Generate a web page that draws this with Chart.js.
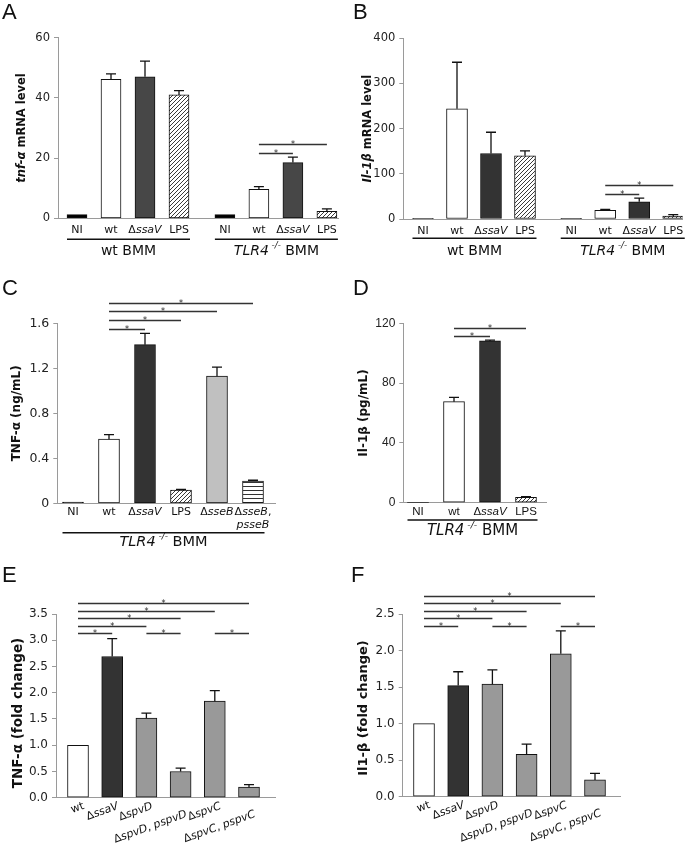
<!DOCTYPE html>
<html>
<head>
<meta charset="utf-8">
<script src="https://cdn.jsdelivr.net/npm/chart.js"></script>
<style>
  body { margin: 0; background: #fff; }
  #fig { position: relative; width: 692px; height: 848px; }
  canvas { position: absolute; }
  .lt { position: absolute; font: 22px 'Liberation Sans', sans-serif; line-height: 22px; color: #111; }
</style>
</head>
<body>
<div id="fig">
  <canvas id="cA" width="346" height="290" style="left:0;top:0"></canvas>
  <canvas id="cB" width="346" height="290" style="left:346px;top:0"></canvas>
  <canvas id="cC" width="346" height="270" style="left:0;top:290px"></canvas>
  <canvas id="cD" width="346" height="270" style="left:346px;top:290px"></canvas>
  <canvas id="cE" width="346" height="288" style="left:0;top:560px"></canvas>
  <canvas id="cF" width="346" height="288" style="left:346px;top:560px"></canvas>
  <div class="lt" style="left:2px;top:1px">A</div>
  <div class="lt" style="left:353px;top:1px">B</div>
  <div class="lt" style="left:2px;top:277px">C</div>
  <div class="lt" style="left:353px;top:277px">D</div>
  <div class="lt" style="left:2px;top:564px">E</div>
  <div class="lt" style="left:351px;top:564px">F</div>
</div>
<script>
// ---- data ----
// A: tnf-a mRNA level, wt BMM and TLR4-/- BMM
const catsA = ['NI', 'wt', 'ΔssaV', 'LPS', 'NI', 'wt', 'ΔssaV', 'LPS'];
const valsA = [1.2, 46.2, 47.0, 41.0, 1.2, 9.6, 18.5, 2.3];
const errsA = [0, 1.8, 5.2, 1.4, 0, 0.9, 1.8, 0.8];
const sigA = [[5, 6, 21.8], [5, 7, 24.6]];
const ticksA = [0, 20, 40, 60];

// B: Il-1b mRNA level
const catsB = ['NI', 'wt', 'ΔssaV', 'LPS', 'NI', 'wt', 'ΔssaV', 'LPS'];
const valsB = [1.5, 244, 145, 140, 1.5, 19, 38, 6.5];
const errsB = [0, 103, 47, 11, 0, 2, 8, 3];
const sigB = [[5, 6, 55], [5, 7, 75]];
const ticksB = [0, 100, 200, 300, 400];

// C: TNF-a (ng/mL), TLR4-/- BMM
const catsC = ['NI', 'wt', 'ΔssaV', 'LPS', 'ΔsseB', 'ΔsseB, psseB'];
const valsC = [0.01, 0.57, 1.41, 0.118, 1.13, 0.198];
const errsC = [0, 0.04, 0.10, 0.006, 0.08, 0.007];
const sigC = [[1, 2, 1.547], [1, 3, 1.63], [1, 4, 1.71], [1, 5, 1.78]];
const ticksC = [0, 0.4, 0.8, 1.2, 1.6];

// D: Il-1b (pg/mL), TLR4-/- BMM
const catsD = ['NI', 'wt', 'ΔssaV', 'LPS'];
const valsD = [0, 67.6, 108.2, 3.6];
const errsD = [0, 2.9, 0.6, 0.4];
const sigD = [[1, 2, 111.7], [1, 3, 117]];
const ticksD = [0, 40, 80, 120];

// E: TNF-a fold change
const catsE = ['wt', 'ΔssaV', 'ΔspvD', 'ΔspvD, pspvD', 'ΔspvC', 'ΔspvC, pspvC'];
const valsE = [1.0, 2.69, 1.515, 0.50, 1.84, 0.20];
const errsE = [0, 0.34, 0.095, 0.065, 0.20, 0.05];
const sigE = [[0, 1, 3.14], [0, 2, 3.28], [0, 3, 3.42], [0, 4, 3.56], [0, 5, 3.71], [2, 3, 3.14], [4, 5, 3.14]];
const ticksE = [0, 0.5, 1.0, 1.5, 2.0, 2.5, 3.0, 3.5];

// F: Il1-b fold change
const catsF = ['wt', 'ΔssaV', 'ΔspvD', 'ΔspvD, pspvD', 'ΔspvC', 'ΔspvC, pspvC'];
const valsF = [1.0, 1.52, 1.54, 0.58, 1.955, 0.23];
const errsF = [0, 0.19, 0.195, 0.14, 0.315, 0.09];
const sigF = [[0, 1, 2.34], [0, 2, 2.44], [0, 3, 2.54], [0, 4, 2.65], [0, 5, 2.75], [2, 3, 2.34], [4, 5, 2.34]];
const ticksF = [0, 0.5, 1.0, 1.5, 2.0, 2.5];

// ---- drawing helpers ----
const DV = '"DejaVu Sans"';
const LS = '"Liberation Sans"';
const TLR = [{t: 'TLR4', it: true}, {t: ' -/-', it: true, sup: true}, {t: ' BMM'}];

function makeHatch(ctx) {
  const c = document.createElement('canvas');
  c.width = 4; c.height = 4;
  const g = c.getContext('2d');
  g.fillStyle = '#fff'; g.fillRect(0, 0, 4, 4);
  g.strokeStyle = '#3a3a3a'; g.lineWidth = 1;
  g.beginPath();
  g.moveTo(0, 4); g.lineTo(4, 0);
  g.moveTo(-1, 1); g.lineTo(1, -1);
  g.moveTo(3, 5); g.lineTo(5, 3);
  g.stroke();
  return ctx.createPattern(c, 'repeat');
}

function makeLines(ctx) {
  const c = document.createElement('canvas');
  c.width = 4; c.height = 4;
  const g = c.getContext('2d');
  g.fillStyle = '#fff'; g.fillRect(0, 0, 4, 4);
  g.fillStyle = '#333'; g.fillRect(0, 0, 4, 1);
  return ctx.createPattern(c, 'repeat');
}

function segsFor(line, gene) {
  if (!gene) return [{t: line}];
  const out = [];
  for (const ch of line) {
    const it = !/[Δ, ]/.test(ch);
    const last = out[out.length - 1];
    if (last && last.it === it) last.t += ch; else out.push({t: ch, it: it});
  }
  return out;
}

function drawRich(ctx, segs, x, y, align, size, family, weight) {
  const parts = segs.map(s => {
    const sz = s.sup ? size * 0.62 : size;
    const f = (s.it ? 'italic ' : '') + (weight || 'normal') + ' ' + sz + 'px ' + family;
    ctx.font = f;
    return {s: s, f: f, w: ctx.measureText(s.t).width};
  });
  const total = parts.reduce((a, b) => a + b.w, 0);
  let cx = align === 'center' ? x - total / 2 : (align === 'right' ? x - total : x);
  ctx.textAlign = 'left';
  parts.forEach(pt => {
    ctx.font = pt.f;
    ctx.fillText(pt.s.t, cx, y - (pt.s.sup ? size * 0.38 : 0));
    cx += pt.w;
  });
}

// ---- panel layout ----
const panels = [
  {id: 'cA', w: 346, h: 290, axisX: 58, areaTop: 37.7, areaBottom: 218.3, areaRight: 338,
   x0: 77, unit: 34, split: 4, gap: 0.35, barW: 20,
   cats: catsA, vals: valsA, errs: errsA, sig: sigA, ticks: ticksA, fmt: v => String(v),
   fills: {NI: '#000', wt: '#fff', 'ΔssaV': '#474747', LPS: 'hatch'},
   title: [{t: 'tnf-α', it: true}, {t: ' mRNA level'}], titleSize: 11.5, titleX: 22,
   tickFont: DV, tickSize: 11.5, labelFont: DV, labelSize: 11, labelDy: 12,
   groups: [{from: 0, to: 3, segs: [{t: 'wt BMM'}], lineY: 239.3, textY: 251.5, size: 14},
            {from: 4, to: 7, segs: TLR, lineY: 239.3, textY: 251.5, size: 14}]},
  {id: 'cB', w: 346, h: 290, axisX: 57.3, areaTop: 38.3, areaBottom: 219, areaRight: 336.7,
   x0: 77, unit: 34, split: 4, gap: 0.36, barW: 21,
   cats: catsB, vals: valsB, errs: errsB, sig: sigB, ticks: ticksB, fmt: v => String(v),
   fills: {NI: '#000', wt: '#fff', 'ΔssaV': '#333', LPS: 'hatch'},
   title: [{t: 'Il-1β', it: true}, {t: ' mRNA level'}], titleSize: 11.5, titleX: 21.7,
   tickFont: DV, tickSize: 11.5, labelFont: DV, labelSize: 11, labelDy: 12,
   groups: [{from: 0, to: 3, segs: [{t: 'wt BMM'}], lineY: 238.3, textY: 251.5, size: 14},
            {from: 4, to: 7, segs: TLR, lineY: 238.3, textY: 251.5, size: 14}]},
  {id: 'cC', w: 346, h: 270, axisX: 57.3, areaTop: 33.3, areaBottom: 213.3, areaRight: 275,
   x0: 73, unit: 36, barW: 21, wrap: true,
   cats: catsC, vals: valsC, errs: errsC, sig: sigC, ticks: ticksC, fmt: v => v === 0 ? '0' : v.toFixed(1),
   fills: {NI: '#000', wt: '#fff', 'ΔssaV': '#333', LPS: 'hatch', 'ΔsseB': '#c0c0c0', 'ΔsseB, psseB': 'lines'},
   title: [{t: 'TNF-α (ng/mL)'}], titleSize: 12, titleX: 17,
   tickFont: DV, tickSize: 12.5, labelFont: DV, labelSize: 11, labelDy: 9,
   groups: [{from: 0, to: 5, segs: TLR, lineY: 242.7, textY: 252, size: 14.5}]},
  {id: 'cD', w: 346, h: 270, axisX: 57.3, areaTop: 33.3, areaBottom: 212.7, areaRight: 200,
   x0: 72, unit: 36, barW: 21,
   cats: catsD, vals: valsD, errs: errsD, sig: sigD, ticks: ticksD, fmt: v => String(v),
   fills: {NI: '#000', wt: '#fff', 'ΔssaV': '#333', LPS: 'hatch'},
   title: [{t: 'Il-1β (pg/mL)'}], titleSize: 12, titleX: 18,
   tickFont: LS, tickSize: 12, labelFont: LS, labelSize: 11.5, labelDy: 9,
   groups: [{from: 0, to: 3, segs: TLR, lineY: 230, textY: 241, size: 15}]},
  {id: 'cE', w: 346, h: 288, axisX: 56, areaTop: 54, areaBottom: 237.7, areaRight: 275,
   x0: 78, unit: 34.2, barW: 21, rotate: true,
   cats: catsE, vals: valsE, errs: errsE, sig: sigE, ticks: ticksE, fmt: v => v.toFixed(1),
   fills: {wt: '#fff', 'ΔssaV': '#333'}, fillDefault: '#999',
   title: [{t: 'TNF-α (fold change)'}], titleSize: 13.5, titleX: 18, titleY: 153,
   tickFont: DV, tickSize: 12, labelFont: DV, labelSize: 11, groups: []},
  {id: 'cF', w: 346, h: 288, axisX: 56.7, areaTop: 54, areaBottom: 236.7, areaRight: 274,
   x0: 78, unit: 34.2, barW: 21, rotate: true,
   cats: catsF, vals: valsF, errs: errsF, sig: sigF, ticks: ticksF, fmt: v => v.toFixed(1),
   fills: {wt: '#fff', 'ΔssaV': '#333'}, fillDefault: '#999',
   title: [{t: 'Il1-β (fold change)'}], titleSize: 13, titleX: 18, titleY: 148,
   tickFont: DV, tickSize: 12, labelFont: DV, labelSize: 11, groups: []}
];

function buildPanel(p) {
  const cv = document.getElementById(p.id);
  const ctx = cv.getContext('2d');
  const hatch = makeHatch(ctx);
  const lines = makeLines(ctx);
  const pos = i => i + (p.split != null && i >= p.split ? p.gap : 0);
  const xmin = -(p.x0 - p.axisX) / p.unit;
  const xmax = xmin + (p.areaRight - p.axisX) / p.unit;
  const fill = c => {
    const f = p.fills[c] || p.fillDefault || '#fff';
    return f === 'hatch' ? hatch : (f === 'lines' ? lines : f);
  };

  const decor = {
    id: 'decor',
    afterDatasetsDraw(chart) {
      const c = chart.ctx, ys = chart.scales.y;
      const meta = chart.getDatasetMeta(0);
      c.save();
      c.strokeStyle = '#111';
      c.lineWidth = 1.3;
      meta.data.forEach((el, i) => {
        const e = p.errs[i];
        if (!e) return;
        const yt = ys.getPixelForValue(p.vals[i] + e);
        c.beginPath();
        c.moveTo(el.x, el.y);
        c.lineTo(el.x, yt);
        c.moveTo(el.x - 5, yt);
        c.lineTo(el.x + 5, yt);
        c.stroke();
      });
      c.restore();
    },
    afterDraw(chart) {
      const c = chart.ctx, xs = chart.scales.x, ys = chart.scales.y;
      const area = chart.chartArea;
      c.save();
      // significance bars
      p.sig.forEach(s => {
        const x1 = xs.getPixelForValue(pos(s[0]));
        const x2 = xs.getPixelForValue(pos(s[1]));
        const y = Math.round(ys.getPixelForValue(s[2])) + 0.5;
        c.strokeStyle = '#333';
        c.lineWidth = 1.3;
        c.beginPath();
        c.moveTo(x1, y);
        c.lineTo(x2, y);
        c.stroke();
        c.fillStyle = '#222';
        c.font = '8px ' + DV;
        c.textAlign = 'center';
        c.textBaseline = 'alphabetic';
        c.fillText('*', (x1 + x2) / 2, y + 2.5);
      });
      // category labels
      c.fillStyle = '#111';
      p.cats.forEach((cat, i) => {
        const x = xs.getPixelForValue(pos(i));
        const gene = cat.indexOf('Δ') >= 0;
        if (p.rotate) {
          const long = cat.length > 8;
          c.save();
          c.translate(x + 4, area.bottom + 3 + (long ? 8 : 0));
          c.rotate(-20 * Math.PI / 180);
          c.textBaseline = 'top';
          drawRich(c, segsFor(cat, gene), 0, 0, 'right', p.labelSize, p.labelFont);
          c.restore();
        } else {
          const rows = p.wrap ? cat.split(/(?<=,) /) : [cat];
          c.textBaseline = 'middle';
          rows.forEach((r, k) => {
            drawRich(c, segsFor(r, gene), x, area.bottom + p.labelDy + k * 13, 'center', p.labelSize, p.labelFont);
          });
        }
      });
      // group underlines and names
      p.groups.forEach(g => {
        const xa = xs.getPixelForValue(pos(g.from)) - p.barW / 2;
        const xb = xs.getPixelForValue(pos(g.to)) + p.barW / 2 + 1;
        c.strokeStyle = '#111';
        c.lineWidth = 1.4;
        c.beginPath();
        c.moveTo(xa, g.lineY);
        c.lineTo(xb, g.lineY);
        c.stroke();
        c.textBaseline = 'middle';
        drawRich(c, g.segs, (xa + xb) / 2, g.textY, 'center', g.size, DV);
      });
      // y axis title
      c.save();
      c.translate(p.titleX, p.titleY || (area.top + area.bottom) / 2);
      c.rotate(-Math.PI / 2);
      c.textBaseline = 'middle';
      drawRich(c, p.title, 0, 0, 'center', p.titleSize, DV, 'bold');
      c.restore();
      c.restore();
    }
  };

  new Chart(cv, {
    type: 'bar',
    data: {
      datasets: [{
        data: p.cats.map((c, i) => ({x: pos(i), y: p.vals[i]})),
        backgroundColor: p.cats.map(fill),
        borderColor: '#111',
        borderWidth: p.vals.map(v => v > 0 ? 1 : 0),
        borderSkipped: false,
        barThickness: p.barW
      }]
    },
    options: {
      responsive: false,
      animation: false,
      events: [],
      layout: {padding: {top: p.areaTop, right: p.w - p.areaRight, left: 0, bottom: 0}},
      plugins: {legend: {display: false}, tooltip: {enabled: false}},
      scales: {
        x: {
          type: 'linear', min: xmin, max: xmax, offset: false,
          grid: {display: false},
          border: {display: true, color: '#9a9a9a', width: 1},
          ticks: {display: false},
          afterFit: s => { s.height = p.h - p.areaBottom; }
        },
        y: {
          min: p.ticks[0], max: p.ticks[p.ticks.length - 1],
          afterBuildTicks: s => { s.ticks = p.ticks.map(v => ({value: v})); },
          ticks: {callback: v => p.fmt(v), font: {family: p.tickFont.replace(/"/g, ''), size: p.tickSize}, color: '#222', padding: 4},
          grid: {drawOnChartArea: false, drawTicks: true, tickLength: 4, color: '#9a9a9a'},
          border: {display: true, color: '#9a9a9a', width: 1},
          afterFit: s => { s.width = p.axisX; }
        }
      }
    },
    plugins: [decor]
  });
}

panels.forEach(buildPanel);
</script>
</body>
</html>
